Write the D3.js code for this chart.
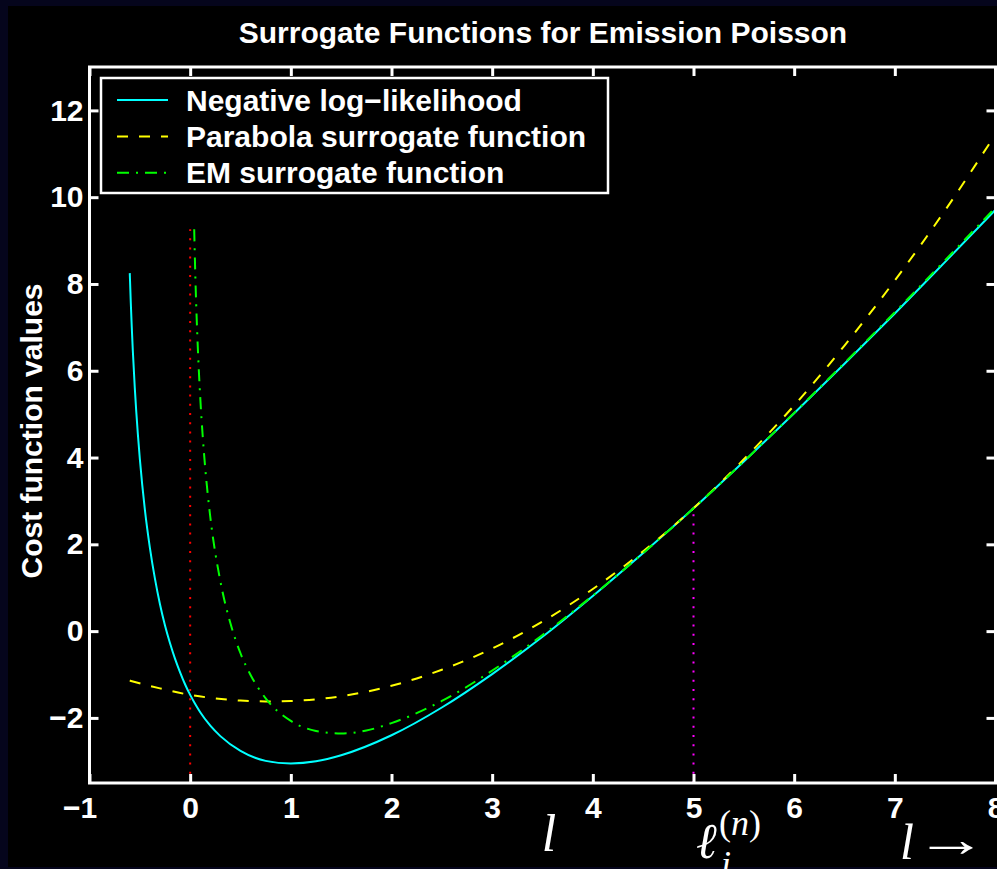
<!DOCTYPE html>
<html><head><meta charset="utf-8">
<script src="https://cdn.jsdelivr.net/npm/d3@7"></script>
<style>
html,body{margin:0;padding:0;background:#05051c;}
svg{display:block;}
.sans{font-family:"Liberation Sans",Arial,Helvetica,sans-serif;font-weight:bold;fill:#fff;}
.serif{font-family:"Liberation Serif","Times New Roman",serif;fill:#fff;}
</style></head><body>
<svg id="chart" width="997" height="869"></svg>
<script>
// ---------- data ----------
const chartTitle = "Surrogate Functions for Emission Poisson";
const yAxisTitle = "Cost function values";
const seriesNames = ["Negative log\u2212likelihood", "Parabola surrogate function", "EM surrogate function"];
const xTicks = [-1, 0, 1, 2, 3, 4, 5, 6, 7, 8];
const yTicks = [-2, 0, 2, 4, 6, 8, 10, 12];

const nllX = [-0.6, -0.59, -0.58, -0.57, -0.55, -0.52, -0.5, -0.45, -0.4, -0.35, -0.3, -0.25, -0.2, -0.15, -0.1, -0.05, 0, 0.05, 0.1, 0.2, 0.3, 0.5, 0.75, 1, 1.25, 1.5, 2, 2.5, 3, 3.5, 4, 4.5, 5, 5.5, 6, 6.5, 7, 7.5, 8];
const nllY = [8.25, 7.58, 7.0, 6.48, 5.6, 4.55, 3.97, 2.80, 1.92, 1.21, 0.62, 0.13, -0.28, -0.64, -0.95, -1.23, -1.47, -1.68, -1.87, -2.18, -2.42, -2.76, -2.99, -3.05, -3.0, -2.86, -2.40, -1.76, -0.99, -0.13, 0.81, 1.80, 2.83, 3.91, 5.02, 6.16, 7.32, 8.51, 9.71];

const parX = [-0.6, -0.3, 0, 0.25, 0.5, 0.75, 1, 1.5, 2, 2.5, 3, 3.5, 4, 4.5, 5, 5.5, 6, 6.5, 7, 7.5, 8];
const parY = [-1.14, -1.32, -1.47, -1.55, -1.60, -1.62, -1.61, -1.50, -1.26, -0.89, -0.40, 0.22, 0.97, 1.84, 2.83, 3.96, 5.20, 6.58, 8.08, 9.70, 11.45];

const emX = [0.04, 0.05, 0.06, 0.07, 0.085, 0.1, 0.125, 0.15, 0.2, 0.3, 0.4, 0.5, 0.6, 0.75, 1, 1.25, 1.5, 1.75, 2, 2.5, 3, 3.5, 4, 4.5, 5, 5.5, 6, 6.5, 7, 7.5, 8];
const emY = [9.26, 8.30, 7.53, 6.88, 6.06, 5.39, 4.48, 3.75, 2.63, 1.15, 0.18, -0.51, -1.01, -1.55, -2.07, -2.30, -2.36, -2.29, -2.12, -1.61, -0.91, -0.09, 0.82, 1.80, 2.83, 3.91, 5.03, 6.18, 7.35, 8.55, 9.76];

const markerX = [0, 5];        // vertical dotted guide lines
const markerTop = [9.26, 2.83];

// ---------- drawing ----------
const W = 997, H = 869;
const svg = d3.select("#chart");
svg.append("rect").attr("x", 8).attr("y", 6).attr("width", W - 8).attr("height", H - 8).attr("fill", "#000");

const x = d3.scaleLinear().domain([-1, 8]).range([89.5, 995.5]);
const y = d3.scaleLinear().domain([-3.5, 13]).range([783, 67]);

svg.append("clipPath").attr("id", "plotclip").append("rect")
  .attr("x", x(-1)).attr("y", y(13)).attr("width", x(8) - x(-1)).attr("height", y(-3.5) - y(13));

const plot = svg.append("g").attr("clip-path", "url(#plotclip)");
const line = d3.line().x(d => x(d[0])).y(d => y(d[1])).curve(d3.curveMonotoneX);

const series = [
  {xs: nllX, ys: nllY, color: "#00ffff", dash: null},
  {xs: parX, ys: parY, color: "#ffff00", dash: "11,11"},
  {xs: emX, ys: emY, color: "#00ff00", dash: "12,7,2,7"}
];
series.forEach(s => {
  plot.append("path").datum(s.xs.map((v, i) => [v, s.ys[i]]))
    .attr("d", line).attr("fill", "none").attr("stroke", s.color)
    .attr("stroke-width", 2).attr("stroke-dasharray", s.dash);
});

const markerColors = ["#ff0000", "#ff00ff"];
markerX.forEach((mx, i) => {
  plot.append("line").attr("x1", x(mx)).attr("x2", x(mx))
    .attr("y1", y(-3.5)).attr("y2", y(markerTop[i]))
    .attr("stroke", markerColors[i]).attr("stroke-width", 2).attr("stroke-dasharray", "2,7.2");
});

// axes
function styleAxis(g) {
  g.select(".domain").remove();
  g.selectAll(".tick line").attr("stroke", "#fff").attr("stroke-width", 3);
  g.selectAll(".tick text").attr("class", "sans").attr("font-size", 30).attr("fill", "#fff");
}
const xAxisG = svg.append("g").attr("transform", `translate(0,${y(-3.5)})`)
  .call(d3.axisBottom(x).tickValues(xTicks).tickSizeInner(-9).tickSizeOuter(0).tickPadding(14)).call(styleAxis);
// negative labels hang their minus sign to the left, as in the reference
xAxisG.selectAll(".tick text").filter(d => d < 0).attr("dx", -10);
svg.append("g").attr("transform", `translate(0,${y(13)})`)
  .call(d3.axisTop(x).tickValues(xTicks).tickSizeInner(-9).tickSizeOuter(0).tickFormat("")).call(styleAxis);
svg.append("g").attr("transform", `translate(${x(-1)},0)`)
  .call(d3.axisLeft(y).tickValues(yTicks).tickSizeInner(-9).tickSizeOuter(0).tickPadding(6)).call(styleAxis);
svg.append("g").attr("transform", `translate(${x(8)},0)`)
  .call(d3.axisRight(y).tickValues(yTicks).tickSizeInner(-9).tickSizeOuter(0).tickFormat("")).call(styleAxis);

svg.append("rect").attr("x", x(-1)).attr("y", y(13)).attr("width", x(8) - x(-1)).attr("height", y(-3.5) - y(13))
  .attr("fill", "none").attr("stroke", "#fff").attr("stroke-width", 3);

// titles
svg.append("text").attr("class", "sans").attr("x", 543).attr("y", 43)
  .attr("text-anchor", "middle").attr("font-size", 30).text(chartTitle);
svg.append("text").attr("class", "sans").attr("transform", "translate(42,431) rotate(-90)")
  .attr("text-anchor", "middle").attr("font-size", 30).text(yAxisTitle);

// legend
const lg = svg.append("g");
lg.append("rect").attr("x", 101).attr("y", 78).attr("width", 507).attr("height", 115)
  .attr("fill", "#000").attr("stroke", "#fff").attr("stroke-width", 2.5);
series.forEach((s, i) => {
  const cy = 100 + i * 36.4;
  lg.append("line").attr("x1", 117).attr("x2", 168).attr("y1", cy).attr("y2", cy)
    .attr("stroke", s.color).attr("stroke-width", 2).attr("stroke-dasharray", s.dash);
  lg.append("text").attr("class", "sans").attr("x", 186).attr("y", cy + 10.5)
    .attr("font-size", 30).text(seriesNames[i]);
});

// italic math annotations under the axis
svg.append("text").attr("class", "serif").attr("x", 549).attr("y", 851)
  .attr("text-anchor", "middle").attr("font-size", 52).attr("font-style", "italic").text("l");
svg.append("text").attr("class", "serif").attr("x", 696).attr("y", 858).attr("font-size", 50)
  .attr("font-style", "italic").text("\u2113");
svg.append("text").attr("class", "serif").attr("x", 719).attr("y", 835).attr("font-size", 36)
  .html('<tspan>(</tspan><tspan font-style="italic">n</tspan><tspan>)</tspan>');
svg.append("text").attr("class", "serif").attr("x", 721).attr("y", 876).attr("font-size", 36)
  .attr("font-style", "italic").text("i");
svg.append("text").attr("class", "serif").attr("x", 900).attr("y", 859)
  .attr("font-size", 50).attr("font-style", "italic").text("l");
svg.append("g").attr("transform", "translate(915,856) scale(1.45,1)")
  .append("text").attr("class", "serif").attr("x", 0).attr("y", 0)
  .attr("font-size", 50).text("\u2192");
</script>
</body></html>
